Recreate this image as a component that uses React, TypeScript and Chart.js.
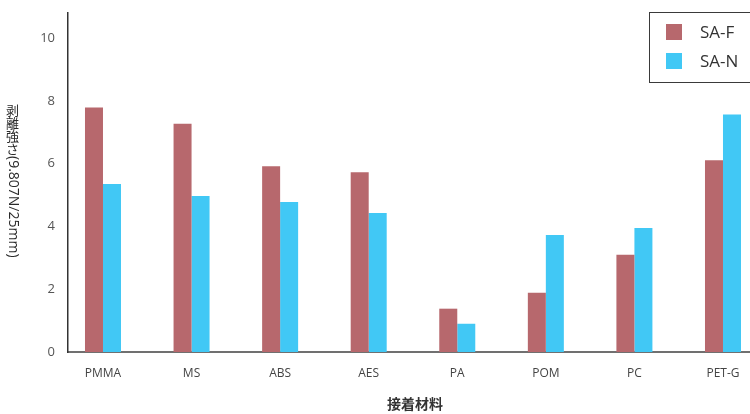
import React, { useEffect, useRef } from "react";
import { Chart, registerables } from "chart.js";

Chart.register(...registerables);

const categories = ["PMMA", "MS", "ABS", "AES", "PA", "POM", "PC", "PET-G"];
const seriesNames = ["SA-F", "SA-N"];
const saF = [7.79, 7.27, 5.92, 5.73, 1.38, 1.89, 3.1, 6.11];
const saN = [5.35, 4.97, 4.78, 4.43, 0.9, 3.73, 3.95, 7.57];
const yTicks = [0, 2, 4, 6, 8, 10];
const yTitleCJK = ["剥", "離", "強", "さ"];
const yTitleLatin = "(9.807N/25mm)";
const xTitle = "接着材料";

const colors = ["#B7686D", "#41C8F5"];
const FONT = "'Open Sans', 'Noto Sans CJK JP', sans-serif";

const overlayPlugin = {
  id: "overlay",
  afterDraw(chart: any) {
    const ctx = chart.ctx;
    const area = chart.chartArea;
    ctx.save();
    // Legend box
    const bx = area.right - 101;
    const by = area.top - 1;
    ctx.fillStyle = "#ffffff";
    ctx.fillRect(bx, by, 110, 70);
    ctx.strokeStyle = "#3a3a3a";
    ctx.lineWidth = 1;
    ctx.strokeRect(bx + 0.5, by + 0.5, 110, 70);
    seriesNames.forEach((name, i) => {
      const cy = by + 20 + i * 29;
      ctx.fillStyle = colors[i];
      ctx.fillRect(bx + 17, cy - 8, 16, 16);
      ctx.fillStyle = "#333333";
      ctx.font = `17px ${FONT}`;
      ctx.textAlign = "left";
      ctx.textBaseline = "middle";
      ctx.fillText(name, bx + 51, cy + 1);
    });

    // Y title (vertical writing)
    ctx.fillStyle = "#2a2a2a";
    const cx = 12.5;
    let y = 104;
    ctx.font = `13px 'Noto Sans CJK JP', sans-serif`;
    ctx.textAlign = "center";
    ctx.textBaseline = "middle";
    yTitleCJK.forEach((ch) => {
      ctx.fillText(ch, cx, y + 6.5);
      y += 13;
    });
    ctx.save();
    ctx.translate(cx, y);
    ctx.rotate(Math.PI / 2);
    ctx.font = `14px ${FONT}`;
    ctx.textAlign = "left";
    ctx.textBaseline = "middle";
    ctx.fillText(yTitleLatin, 0, 0);
    ctx.restore();

    // X title
    ctx.font = `bold 14px 'Noto Sans CJK JP', sans-serif`;
    ctx.textAlign = "center";
    ctx.textBaseline = "middle";
    ctx.fillStyle = "#333333";
    ctx.fillText(xTitle, 415, 404);
    ctx.restore();
  },
};

export default function App() {
  const canvasRef = useRef<HTMLCanvasElement | null>(null);

  useEffect(() => {
    document.body.style.margin = "0";
    const canvas = canvasRef.current;
    if (!canvas) return;
    const chart = new Chart(canvas, {
      type: "bar",
      data: {
        datasets: [
          {
            label: seriesNames[0],
            data: saF.map((v, i) => ({ x: i, y: v })),
            backgroundColor: colors[0],
            borderWidth: 0,
          },
          {
            label: seriesNames[1],
            data: saN.map((v, i) => ({ x: i, y: v })),
            backgroundColor: colors[1],
            borderWidth: 0,
          },
        ],
      },
      options: {
        responsive: false,
        animation: false,
        maintainAspectRatio: false,
        layout: { padding: { top: 13, left: 0, right: 0, bottom: 0 } },
        categoryPercentage: 0.4065,
        barPercentage: 1,
        plugins: {
          legend: { display: false },
          tooltip: { enabled: false },
          title: { display: false },
        },
        scales: {
          x: {
            type: "linear",
            offset: false,
            min: -0.395,
            max: 7.305,
            grid: { display: false, drawTicks: false, offset: false },
            border: { display: true, color: "#707070", width: 2 },
            afterBuildTicks: (scale: any) => {
              scale.ticks = categories.map((_, i) => ({ value: i }));
            },
            afterFit: (scale: any) => {
              scale.height = 62;
              scale.paddingLeft = 0;
              scale.paddingRight = 0;
            },
            ticks: {
              autoSkip: false,
              maxRotation: 0,
              padding: 14,
              color: "#444444",
              font: { family: FONT, size: 12 },
              callback: (value: any) => categories[Math.round(Number(value))] ?? "",
            },
          },
          y: {
            type: "linear",
            min: 0,
            max: 10.8,
            grid: { display: false, drawTicks: false },
            border: { display: true, color: "#333333", width: 1.5 },
            afterBuildTicks: (scale: any) => {
              scale.ticks = yTicks.map((v) => ({ value: v }));
            },
            afterFit: (scale: any) => {
              scale.width = 68;
              scale.paddingTop = 0;
              scale.paddingBottom = 0;
            },
            ticks: {
              padding: 13,
              color: "#555555",
              font: { family: FONT, size: 13 },
            },
          },
        },
      },
      plugins: [overlayPlugin],
    } as any);
    return () => chart.destroy();
  }, []);

  return (
    <div style={{ width: 750, height: 414, background: "#ffffff" }}>
      <canvas ref={canvasRef} width={750} height={414} style={{ display: "block" }} />
    </div>
  );
}
